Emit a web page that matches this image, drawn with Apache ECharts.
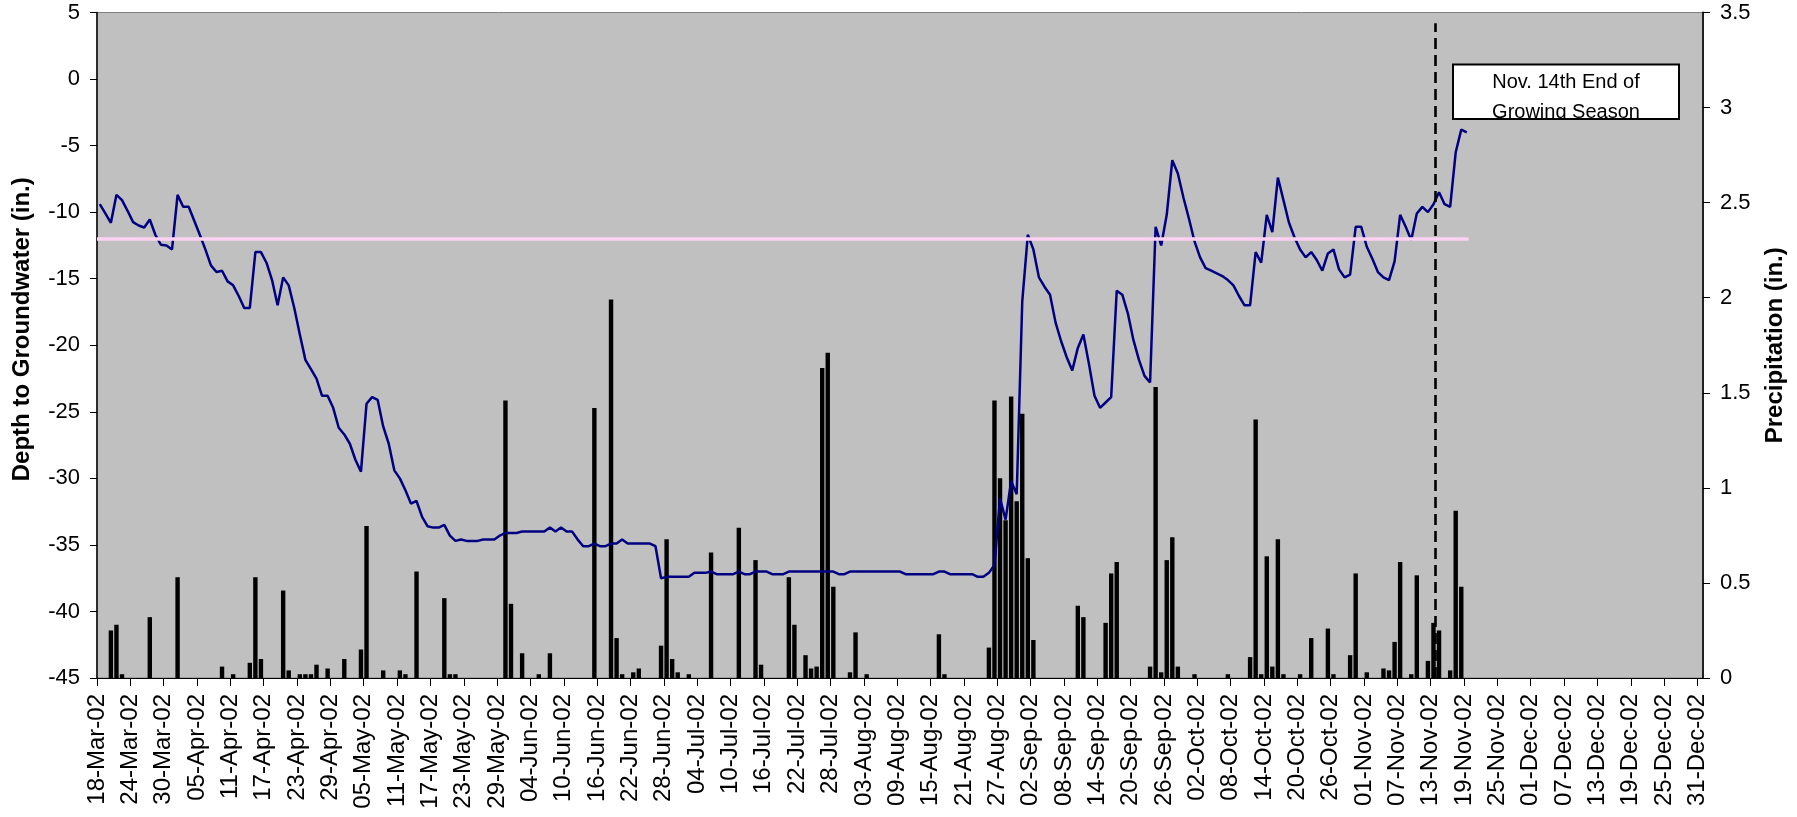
<!DOCTYPE html>
<html>
<head>
<meta charset="utf-8">
<script src="https://cdn.jsdelivr.net/npm/echarts@6/dist/echarts.min.js"></script>
<style>
html,body{margin:0;padding:0;background:#fff;}
#chart{width:1797px;height:817px;}
</style>
</head>
<body>
<div id="chart"></div>
<script>
// ---- Data ----
var startDate = '03-18'; // 18-Mar-02, first day of the daily series
var tickLabels = ['18-Mar-02','24-Mar-02','30-Mar-02','05-Apr-02','11-Apr-02','17-Apr-02','23-Apr-02','29-Apr-02',
  '05-May-02','11-May-02','17-May-02','23-May-02','29-May-02','04-Jun-02','10-Jun-02','16-Jun-02','22-Jun-02',
  '28-Jun-02','04-Jul-02','10-Jul-02','16-Jul-02','22-Jul-02','28-Jul-02','03-Aug-02','09-Aug-02','15-Aug-02',
  '21-Aug-02','27-Aug-02','02-Sep-02','08-Sep-02','14-Sep-02','20-Sep-02','26-Sep-02','02-Oct-02','08-Oct-02',
  '14-Oct-02','20-Oct-02','26-Oct-02','01-Nov-02','07-Nov-02','13-Nov-02','19-Nov-02','25-Nov-02','01-Dec-02',
  '07-Dec-02','13-Dec-02','19-Dec-02','25-Dec-02','31-Dec-02'];

// Daily depth to groundwater (in.), from 18-Mar-02 to 19-Nov-02
var depthValues = [
  -9.4,-10.1,-10.8,-8.7,-9.1,-9.9,-10.75,-11.0,-11.15,-10.55,-11.7,-12.45,-12.5,-12.8,
  -8.7,-9.6,-9.6,-10.65,-11.7,-12.8,-14.0,-14.5,-14.4,-15.2,-15.5,-16.3,-17.2,-17.2,
  -13.0,-13.0,-13.8,-15.1,-17.0,-14.9,-15.5,-17.2,-19.2,-21.1,-21.8,-22.5,-23.8,-23.8,
  -24.7,-26.2,-26.7,-27.4,-28.6,-29.5,-24.4,-23.9,-24.1,-26.1,-27.4,-29.4,-30.0,-30.9,
  -31.9,-31.7,-32.9,-33.6,-33.7,-33.7,-33.5,-34.3,-34.7,-34.6,-34.7,-34.7,-34.7,-34.6,
  -34.6,-34.6,-34.3,-34.1,-34.1,-34.1,-34.0,-34.0,-34.0,-34.0,-34.0,-33.7,-34.0,-33.7,
  -34.0,-34.0,-34.6,-35.1,-35.1,-34.9,-35.1,-35.1,-34.9,-34.9,-34.6,-34.9,-34.9,-34.9,
  -34.9,-34.9,-35.1,-37.5,-37.4,-37.4,-37.4,-37.4,-37.4,-37.1,-37.1,-37.1,-37.0,-37.2,
  -37.2,-37.2,-37.2,-37.0,-37.2,-37.2,-37.0,-37.0,-37.0,-37.2,-37.2,-37.2,-37.0,-37.0,
  -37.0,-37.0,-37.0,-37.0,-37.0,-37.0,-37.0,-37.2,-37.2,-37.0,-37.0,-37.0,-37.0,-37.0,
  -37.0,-37.0,-37.0,-37.0,-37.0,-37.2,-37.2,-37.2,-37.2,-37.2,-37.2,-37.0,-37.0,-37.2,
  -37.2,-37.2,-37.2,-37.2,-37.4,-37.4,-37.1,-36.5,-31.5,-33.1,-30.2,-31.2,-16.7,-11.7,
  -12.8,-14.9,-15.6,-16.2,-18.3,-19.7,-20.9,-21.9,-20.2,-19.2,-21.4,-23.8,-24.7,-24.3,
  -23.9,-15.9,-16.2,-17.6,-19.6,-21.1,-22.3,-22.8,-11.1,-12.5,-10.2,-6.1,-7.1,-8.9,
  -10.5,-12.2,-13.4,-14.2,-14.4,-14.6,-14.8,-15.1,-15.5,-16.3,-17.0,-17.0,-13.0,-13.8,
  -10.2,-11.5,-7.4,-9.1,-10.8,-11.9,-12.8,-13.4,-13.0,-13.6,-14.4,-13.1,-12.8,-14.3,
  -14.9,-14.7,-11.1,-11.1,-12.6,-13.5,-14.5,-14.9,-15.1,-13.7,-10.2,-11.1,-12.1,-10.1,
  -9.6,-10.0,-9.4,-8.5,-9.4,-9.6,-5.5,-3.8,-4.0
];

// Precipitation (in.) on rain days
var precipDates = ['03-20','03-21','03-22','03-27','04-01','04-09','04-11','04-14','04-15','04-16',
  '04-20','04-21','04-23','04-24','04-25','04-26','04-28','05-01','05-04','05-05',
  '05-08','05-11','05-12','05-14','05-19','05-20','05-21','05-30','05-31','06-02',
  '06-05','06-07','06-15','06-18','06-19','06-20','06-22','06-23','06-27','06-28',
  '06-29','06-30','07-02','07-06','07-11','07-14','07-15','07-20','07-21','07-23',
  '07-24','07-25','07-26','07-27','07-28','07-31','08-01','08-03','08-16','08-17',
  '08-25','08-26','08-27','08-28','08-29','08-30','08-31','09-01','09-02','09-10',
  '09-11','09-15','09-16','09-17','09-23','09-24','09-25','09-26','09-27','09-28',
  '10-01','10-07','10-11','10-12','10-13','10-14','10-15','10-16','10-17','10-20',
  '10-22','10-25','10-26','10-29','10-30','11-01','11-04','11-05','11-06','11-07',
  '11-09','11-10','11-12','11-13','11-14','11-16','11-17','11-18'];
var precipValues = [0.25,0.28,0.02,0.32,0.53,0.06,0.02,0.08,0.53,0.10,
  0.46,0.04,0.02,0.02,0.02,0.07,0.05,0.10,0.15,0.80,
  0.04,0.04,0.02,0.56,0.42,0.02,0.02,1.46,0.39,0.13,
  0.02,0.13,1.42,1.99,0.21,0.02,0.03,0.05,0.17,0.73,
  0.10,0.03,0.02,0.66,0.79,0.62,0.07,0.53,0.28,0.12,
  0.05,0.06,1.63,1.71,0.48,0.03,0.24,0.02,0.23,0.02,
  0.16,1.46,1.05,0.83,1.48,0.93,1.39,0.63,0.20,0.38,
  0.32,0.29,0.55,0.61,0.06,1.53,0.03,0.62,0.74,0.06,
  0.02,0.02,0.11,1.36,0.02,0.64,0.06,0.73,0.02,0.02,
  0.21,0.26,0.02,0.12,0.55,0.03,0.05,0.04,0.19,0.61,
  0.02,0.54,0.09,0.29,0.25,0.04,0.88,0.48];

var thresholdDepth = -12;         // pink reference line
var seasonEndDate = '11-14';      // Nov. 14th End of Growing Season
var annotationText = ['Nov. 14th End of', 'Growing Season'];

// ---- Helpers ----
function dayOffset(mmdd) {
  var p = mmdd.split('-'), s = startDate.split('-');
  return Math.round((Date.UTC(2002, +p[0] - 1, +p[1]) - Date.UTC(2002, +s[0] - 1, +s[1])) / 86400000);
}
var FONT = '"Liberation Sans", Arial, sans-serif';

var lineData = depthValues.map(function (v, i) { return [i + 0.5, v]; });
var barData = precipValues.map(function (v, i) { return [dayOffset(precipDates[i]) + 0.5, v]; });
var lastX = depthValues.length - 0.2;
var seasonX = dayOffset(seasonEndDate) - 0.1;

var chart = echarts.init(document.getElementById('chart'), null, {renderer: 'canvas'});
var option = {
  animation: false,
  backgroundColor: '#ffffff',
  textStyle: {fontFamily: FONT},
  grid: {left: 97, right: 94, top: 12.5, bottom: 139, show: true,
    backgroundColor: '#C0C0C0', borderColor: '#808080', borderWidth: 1},
  xAxis: {
    type: 'value', min: 0, max: 289, interval: 6,
    axisLine: {onZero: false, lineStyle: {color: '#000', width: 1}},
    axisTick: {show: true, length: 8, lineStyle: {color: '#000'}},
    axisLabel: {rotate: 90, margin: 16, fontSize: 24, color: '#000', fontFamily: FONT,
      showMaxLabel: false,
      formatter: function (v) { return (v % 6 === 0 && tickLabels[v / 6]) ? tickLabels[v / 6] : ''; }},
    splitLine: {show: false}
  },
  yAxis: [{
    type: 'value', min: -45, max: 5, interval: 5, position: 'left',
    name: 'Depth to Groundwater (in.)', nameLocation: 'middle', nameGap: 63,
    nameTextStyle: {fontWeight: 'bold', fontSize: 24, color: '#000', fontFamily: FONT,
      padding: [0, 0, 0, 32]},
    axisLine: {show: true, onZero: false, lineStyle: {color: '#000', width: 1.5}},
    axisTick: {show: true, length: 7, lineStyle: {color: '#000'}},
    axisLabel: {fontSize: 22, margin: 17, color: '#000', fontFamily: FONT},
    splitLine: {show: false}
  }, {
    type: 'value', min: 0, max: 3.5, interval: 0.5, position: 'right',
    name: 'Precipitation (in.)', nameLocation: 'middle', nameGap: 60,
    nameTextStyle: {fontWeight: 'bold', fontSize: 24, color: '#000', fontFamily: FONT},
    axisLine: {show: true, onZero: false, lineStyle: {color: '#202020', width: 2}},
    axisTick: {show: true, length: 7, lineStyle: {color: '#000'}},
    axisLabel: {fontSize: 22, margin: 17, color: '#000', fontFamily: FONT},
    splitLine: {show: false}
  }],
  series: [{
    name: 'Precipitation', type: 'bar', yAxisIndex: 1, data: barData,
    barWidth: 4.4, itemStyle: {color: '#000'}, z: 2
  }, {
    name: 'Depth', type: 'line', yAxisIndex: 0, data: lineData,
    showSymbol: false, symbol: 'none', lineStyle: {color: '#000080', width: 2.5},
    z: 4,
    markLine: {
      silent: true, symbol: ['none', 'none'], label: {show: false},
      data: [
        [{coord: [0, thresholdDepth], lineStyle: {color: '#FFD2F4', width: 3.5, type: 'solid'}},
         {coord: [lastX, thresholdDepth]}],
        [{coord: [seasonX, -45], lineStyle: {color: '#000', width: 2.6, type: [11, 6]}},
         {coord: [seasonX, 4.2]}]
      ]
    }
  }],
  graphic: [
    {type: 'rect', z: 100, shape: {x: 1453, y: 64.5, width: 226, height: 54.5},
      style: {fill: '#fff'}},
    {type: 'text', z: 101, x: 1566, y: 82,
      style: {text: annotationText[0], font: '20px ' + FONT, fill: '#000',
        textAlign: 'center', textVerticalAlign: 'middle', align: 'center', verticalAlign: 'middle'}},
    {type: 'text', z: 101, x: 1566, y: 112,
      style: {text: annotationText[1], font: '20px ' + FONT, fill: '#000',
        textAlign: 'center', textVerticalAlign: 'middle', align: 'center', verticalAlign: 'middle'}},
    {type: 'rect', z: 102, shape: {x: 1452, y: 120, width: 228, height: 6},
      style: {fill: '#C0C0C0'}},
    {type: 'rect', z: 103, shape: {x: 1453, y: 64.5, width: 226, height: 54.5},
      style: {fill: 'none', stroke: '#000', lineWidth: 2}}
  ]
};
chart.setOption(option);
</script>
</body>
</html>
